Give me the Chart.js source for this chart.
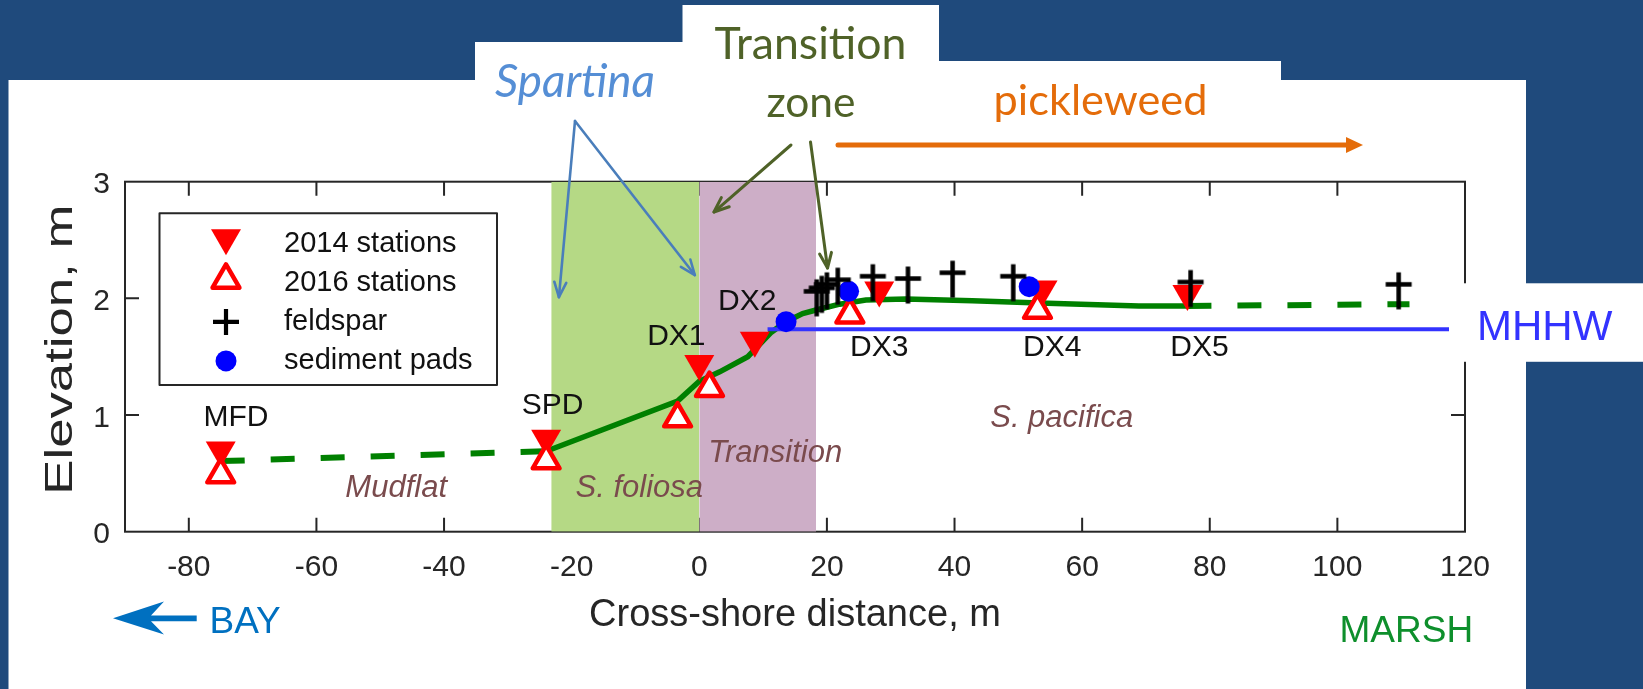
<!DOCTYPE html>
<html>
<head>
<meta charset="utf-8">
<title>Cross-shore elevation profile</title>
<script src="https://cdn.jsdelivr.net/npm/chart.js@4.4.1/dist/chart.umd.min.js"></script>
<style>
  html, body { margin: 0; padding: 0; background: #1F4A7C; overflow: hidden; }
  #wrap { width: 1643px; height: 689px; position: relative; }
</style>
</head>
<body>
<div id="wrap"><canvas id="profile" width="1643" height="689"></canvas></div>
<script>
// ---- axis ticks ----
const xTicks = [-80, -60, -40, -20, 0, 20, 40, 60, 80, 100, 120];
const yTicks = [0, 1, 2, 3];
const xRange = [-90, 120];

// ---- vegetation zones (cross-shore distance, m) ----
const spartinaZone = [-23.2, 0];
const transitionZone = [0, 18.3];

// ---- survey stations (distance m, elevation m) ----
const stations2014X = [-75, -24, 0, 8.7, 28.2, 53.8, 76.5];
const stations2014Y = [0.70, 0.80, 1.44, 1.64, 2.07, 2.08, 2.04];
const stations2016X = [-75, -24, -3.4, 1.6, 23.6, 53.0];
const stations2016Y = [0.49, 0.61, 0.97, 1.23, 1.86, 1.90];

// ---- feldspar marker horizons ----
const feldsparX = [18.4, 19.2, 20.0, 21.7, 27.2, 32.7, 39.7, 49.2, 77.0, 109.6];
const feldsparY = [2.06, 2.09, 2.12, 2.16, 2.19, 2.17, 2.22, 2.19, 2.14, 2.12];

// ---- sediment pads ----
const padsX = [13.6, 23.4, 51.7];
const padsY = [1.80, 2.06, 2.10];

// ---- surveyed ground profile ----
const profileX = [-24, -3.4, 0, 3.2, 7.6, 11.3, 13.6, 16.2, 18.3, 22.0, 26.1, 32.4, 42.8, 53.3, 68.9, 76.5];
const profileY = [0.69, 1.12, 1.29, 1.37, 1.50, 1.71, 1.80, 1.87, 1.90, 1.95, 1.985, 1.995, 1.98, 1.96, 1.935, 1.935];
// extrapolated profile, seaward and landward
const mudflatX = [-75, -24];
const mudflatY = [0.605, 0.69];
const upperMarshX = [76.5, 111.3];
const upperMarshY = [1.935, 1.95];

// ---- mean higher high water ----
const mhhwX = [10.7, 117.5];
const mhhwY = [1.735, 1.735];

// ---- station names ----
const stationNames = ['MFD', 'SPD', 'DX1', 'DX2', 'DX3', 'DX4', 'DX5'];
const stationLabelX = [-72.6, -23.0, -3.6, 7.5, 28.2, 55.3, 78.4];
const stationLabelY = [0.975, 1.077, 1.67, 1.97, 1.58, 1.58, 1.58];

// ---- habitat names ----
const habitatNames = ['Mudflat', 'S. foliosa', 'Transition', 'S. pacifica'];
const habitatX = [-47.5, -9.4, 11.9, 56.8];
const habitatY = [0.372, 0.372, 0.672, 0.968];

// ---- styling ----
const SANS = "'Liberation Sans', Arial, Helvetica, sans-serif";
const CALLOUT = "Lato, 'Open Sans', sans-serif";
const INK = '#262626';
const RED = '#FF0000';
const PROFILE_GREEN = '#008000';
const PAGE_BLUE = '#1F4A7C';

const pts = (xs, ys) => xs.map((x, i) => ({ x, y: ys[i] }));
const yTop = yTicks[yTicks.length - 1];

// feldspar marker: a cross whose stem runs further below the bar
function feldsparGlyph(width, up, down, lw, color) {
  const c = document.createElement('canvas');
  const half = Math.max(up, down) + lw;
  c.width = Math.ceil(width + lw);
  c.height = Math.ceil(2 * half);
  const g = c.getContext('2d');
  const cx = c.width / 2, cy = c.height / 2;
  g.strokeStyle = color;
  g.lineWidth = lw;
  g.beginPath();
  g.moveTo(cx - width / 2, cy); g.lineTo(cx + width / 2, cy);
  g.moveTo(cx, cy - up); g.lineTo(cx, cy + down);
  g.stroke();
  return c;
}
const feldsparMark = feldsparGlyph(26, 12, 25, 4.5, '#000');

const zoneFill = (xs, color, order) => ({
  label: '', data: pts(xs, [yTop, yTop]), showLine: true, fill: 'origin',
  backgroundColor: color, borderColor: 'rgba(0,0,0,0)', borderWidth: 0,
  pointRadius: 0, order
});
const profileLine = (xs, ys, dash) => ({
  label: '', data: pts(xs, ys), showLine: true, fill: false,
  borderColor: PROFILE_GREEN, borderWidth: dash ? 6 : 5.5, borderDash: dash || [],
  pointRadius: 0, order: 12
});

const datasets = [
  zoneFill(spartinaZone, '#B5D985', 20),
  zoneFill(transitionZone, '#CDAEC7', 19),
  profileLine(profileX, profileY, null),
  profileLine(mudflatX, mudflatY, [24, 26]),
  profileLine(upperMarshX, upperMarshY, [24, 26]),
  {
    label: '', data: pts(mhhwX, mhhwY), showLine: true, fill: false,
    borderColor: '#3333FF', borderWidth: 4, pointRadius: 0, order: 11
  },
  {
    label: '2014 stations', legend: true, data: pts(stations2014X, stations2014Y),
    pointStyle: 'triangle', pointRotation: 180, pointRadius: 17.3,
    pointBackgroundColor: RED, pointBorderColor: RED, pointBorderWidth: 0, order: 4
  },
  {
    label: '2016 stations', legend: true, data: pts(stations2016X, stations2016Y),
    pointStyle: 'triangle', pointRotation: 0, pointRadius: 15.5,
    pointBackgroundColor: '#FFFFFF', pointBorderColor: RED, pointBorderWidth: 4.5, order: 3
  },
  {
    label: 'feldspar', legend: true, data: pts(feldsparX, feldsparY),
    pointStyle: feldsparMark, pointRadius: 13,
    legendPointStyle: 'cross', legendBorderWidth: 4.2,
    pointBackgroundColor: '#000', pointBorderColor: '#000', pointBorderWidth: 4, order: 1
  },
  {
    label: 'sediment pads', legend: true, data: pts(padsX, padsY),
    pointStyle: 'circle', pointRadius: 10.5,
    pointBackgroundColor: '#0000FF', pointBorderColor: '#0000FF', pointBorderWidth: 0, order: 2
  }
];

// page background: blue slide with white panels behind the figure
const pagePlugin = {
  id: 'page',
  beforeDraw(chart) {
    const { ctx, width, height } = chart;
    ctx.save();
    ctx.fillStyle = PAGE_BLUE;
    ctx.fillRect(0, 0, width, height);
    ctx.fillStyle = '#FFFFFF';
    ctx.fillRect(8.5, 80, 1526 - 8.5, height - 80);
    ctx.fillRect(475, 42, 682.5 - 475 + 1, 40);
    ctx.fillRect(682.5, 5, 939 - 682.5, 77);
    ctx.fillRect(938, 61, 1281 - 938, 21);
    ctx.restore();
  },
  beforeDatasetsDraw(chart) {
    // box axes with inward ticks
    const { ctx, chartArea: a, scales: { x, y } } = chart;
    ctx.save();
    ctx.strokeStyle = INK;
    ctx.lineWidth = 2;
    ctx.strokeRect(a.left, a.top, a.right - a.left, a.bottom - a.top);
    ctx.beginPath();
    const len = 14;
    x.ticks.forEach(t => {
      const px = x.getPixelForValue(t.value);
      if (px <= a.left + 1 || px >= a.right - 1) return;
      ctx.moveTo(px, a.bottom); ctx.lineTo(px, a.bottom - len);
      ctx.moveTo(px, a.top); ctx.lineTo(px, a.top + len);
    });
    y.ticks.forEach(t => {
      const py = y.getPixelForValue(t.value);
      if (py <= a.top + 1 || py >= a.bottom - 1) return;
      ctx.moveTo(a.left, py); ctx.lineTo(a.left + len, py);
      ctx.moveTo(a.right, py); ctx.lineTo(a.right - len, py);
    });
    ctx.stroke();
    ctx.restore();
    ctx.lineJoin = 'round';
  }
};

// station and habitat names, the y-axis title and the legend box
const labelsPlugin = {
  id: 'labels',
  afterDatasetsDraw(chart) {
    const { ctx, chartArea: a, scales: { x, y } } = chart;
    ctx.save();
    ctx.textAlign = 'center';
    ctx.textBaseline = 'middle';
    ctx.fillStyle = '#111111';
    ctx.font = `30px ${SANS}`;
    stationNames.forEach((s, i) => {
      ctx.fillText(s, x.getPixelForValue(stationLabelX[i]), y.getPixelForValue(stationLabelY[i]));
    });
    ctx.fillStyle = '#7A4B4D';
    ctx.font = `italic 31px ${SANS}`;
    habitatNames.forEach((s, i) => {
      ctx.fillText(s, x.getPixelForValue(habitatX[i]), y.getPixelForValue(habitatY[i]));
    });

    // y-axis title, drawn tall along the axis
    const yTitle = 'Elevation, m';
    ctx.save();
    ctx.font = `39px ${SANS}`;
    const stretch = 290 / ctx.measureText(yTitle).width;
    ctx.translate(61, (a.top + a.bottom) / 2 - 7);
    ctx.rotate(-Math.PI / 2);
    ctx.scale(stretch, 1);
    ctx.fillStyle = INK;
    ctx.fillText(yTitle, 0, 0);
    ctx.restore();

    // legend
    const box = { left: 159.5, top: 213.3, right: 497, bottom: 385 };
    ctx.fillStyle = '#FFFFFF';
    ctx.fillRect(box.left, box.top, box.right - box.left, box.bottom - box.top);
    ctx.strokeStyle = INK;
    ctx.lineWidth = 2;
    ctx.strokeRect(box.left, box.top, box.right - box.left, box.bottom - box.top);
    const entries = chart.data.datasets.filter(d => d.legend);
    entries.forEach((d, i) => {
      const rowY = box.top + 30.6 + i * 39;
      const style = d.legendPointStyle || d.pointStyle;
      const r = d.pointRadius;
      let dy = 0;
      if (style === 'triangle') dy = d.pointRotation === 180 ? -0.35 * r : -0.19 * r;
      ctx.save();
      ctx.lineJoin = 'round';
      ctx.fillStyle = d.pointBackgroundColor;
      ctx.strokeStyle = d.pointBorderColor;
      ctx.lineWidth = d.legendBorderWidth || d.pointBorderWidth;
      Chart.helpers.drawPoint(ctx, {
        pointStyle: style, radius: r, rotation: d.pointRotation || 0,
        borderWidth: d.legendBorderWidth || d.pointBorderWidth
      }, 226, rowY + dy);
      ctx.restore();
      ctx.fillStyle = '#111111';
      ctx.font = `29px ${SANS}`;
      ctx.textAlign = 'left';
      ctx.textBaseline = 'middle';
      ctx.fillText(d.label, 284, rowY);
    });
    ctx.restore();
  }
};

function arrow(ctx, x0, y0, x1, y1, o) {
  const ang = Math.atan2(y1 - y0, x1 - x0);
  const bx = x1 - Math.cos(ang) * o.head, by = y1 - Math.sin(ang) * o.head;
  const nx = -Math.sin(ang) * o.half, ny = Math.cos(ang) * o.half;
  ctx.save();
  ctx.strokeStyle = o.color; ctx.fillStyle = o.color;
  ctx.lineWidth = o.width; ctx.lineCap = 'round'; ctx.lineJoin = 'round';
  ctx.beginPath();
  ctx.moveTo(x0, y0);
  if (o.filled) ctx.lineTo(bx + Math.cos(ang) * 2, by + Math.sin(ang) * 2); else ctx.lineTo(x1, y1);
  ctx.stroke();
  ctx.beginPath();
  ctx.moveTo(bx + nx, by + ny); ctx.lineTo(x1, y1); ctx.lineTo(bx - nx, by - ny);
  if (o.filled) { ctx.closePath(); ctx.fill(); } else { ctx.stroke(); }
  ctx.restore();
}

function fittedText(ctx, text, style, family, width, cx, baseline, color) {
  ctx.font = `${style} 100px ${family}`;
  const size = 100 * width / ctx.measureText(text).width;
  ctx.font = `${style} ${size.toFixed(1)}px ${family}`;
  ctx.fillStyle = color;
  ctx.textAlign = 'center';
  ctx.textBaseline = 'alphabetic';
  ctx.fillText(text, cx, baseline);
}

// callouts around the figure
const calloutPlugin = {
  id: 'callouts',
  afterDraw(chart) {
    const { ctx, scales: { x, y } } = chart;
    ctx.save();

    // MHHW tag at the end of the water-level line
    const tagLeft = x.getPixelForValue(mhhwX[1]);
    const tagMid = y.getPixelForValue(mhhwY[0]);
    ctx.fillStyle = '#FFFFFF';
    ctx.fillRect(tagLeft, tagMid - 46, chart.width - tagLeft, 78.5);
    ctx.fillStyle = '#3333FF';
    ctx.font = `42px ${SANS}`;
    ctx.textAlign = 'left';
    ctx.textBaseline = 'alphabetic';
    ctx.fillText('MHHW', 1477, 339.5);

    // Spartina callout
    fittedText(ctx, 'Spartina', 'italic', CALLOUT, 160, 575, 97, '#558ED5');
    const blue = { color: '#4A7EBB', width: 2.6, head: 15, half: 6, filled: false };
    arrow(ctx, 575, 121, x.getPixelForValue(spartinaZone[0] + 1.2), y.getPixelForValue(2.01), blue);
    arrow(ctx, 575, 121, x.getPixelForValue(spartinaZone[1] - 0.7), y.getPixelForValue(2.2), blue);

    // Transition zone callout
    fittedText(ctx, 'Transition', '', CALLOUT, 192, 810.5, 59, '#4F6228');
    fittedText(ctx, 'zone', '', CALLOUT, 89, 811, 117, '#4F6228');
    const olive = { color: '#4F6228', width: 3, head: 15, half: 6, filled: false };
    arrow(ctx, 791, 145, x.getPixelForValue(transitionZone[0] + 2.3), y.getPixelForValue(2.74), olive);
    arrow(ctx, 810.5, 142, x.getPixelForValue(transitionZone[1] + 1.8), y.getPixelForValue(2.26), olive);

    // pickleweed callout
    fittedText(ctx, 'pickleweed', '', CALLOUT, 214, 1100.5, 115, '#E46C0A');
    arrow(ctx, 838, 145, 1363, 145, { color: '#E46C0A', width: 5, head: 17, half: 8, filled: true });

    // direction cues below the axis
    ctx.fillStyle = '#0070C0';
    ctx.beginPath();
    ctx.moveTo(113, 618.3);
    ctx.lineTo(164, 601.5);
    ctx.lineTo(151, 615.6);
    ctx.lineTo(196.7, 615.6);
    ctx.lineTo(196.7, 621.2);
    ctx.lineTo(151, 621.2);
    ctx.lineTo(164, 634.5);
    ctx.closePath();
    ctx.fill();
    ctx.font = `37px ${SANS}`;
    ctx.textAlign = 'left';
    ctx.fillText('BAY', 209.5, 633.3);
    ctx.fillStyle = '#0E8F2C';
    ctx.fillText('MARSH', 1339.5, 641.7);
    ctx.restore();
  }
};

new Chart(document.getElementById('profile'), {
  type: 'scatter',
  data: { datasets },
  plugins: [pagePlugin, labelsPlugin, calloutPlugin],
  options: {
    responsive: false,
    animation: false,
    events: [],
    devicePixelRatio: 1,
    layout: { padding: { left: 0, top: 181.7, right: 178, bottom: 0 } },
    plugins: { legend: { display: false }, tooltip: { enabled: false } },
    scales: {
      x: {
        type: 'linear', min: xRange[0], max: xRange[1],
        afterBuildTicks: s => { s.ticks = xTicks.map(v => ({ value: v })); },
        afterFit: s => { s.height = 157.3; },
        grid: { display: false, drawTicks: false },
        border: { display: false },
        ticks: { color: INK, font: { family: SANS, size: 30 }, padding: 18, maxRotation: 0, autoSkip: false },
        title: {
          display: true, text: 'Cross-shore distance, m', color: INK,
          font: { family: SANS, size: 38 }, padding: { top: 0, bottom: 51 }
        }
      },
      y: {
        type: 'linear', min: yTicks[0], max: yTop,
        afterBuildTicks: s => { s.ticks = yTicks.map(v => ({ value: v })); },
        afterFit: s => { s.width = 125; },
        grid: { display: false, drawTicks: false },
        border: { display: false },
        ticks: { color: INK, font: { family: SANS, size: 30 }, padding: 15, labelOffset: 3.5 },
        title: { display: false, text: 'Elevation, m' }
      }
    }
  }
});
</script>
</body>
</html>
